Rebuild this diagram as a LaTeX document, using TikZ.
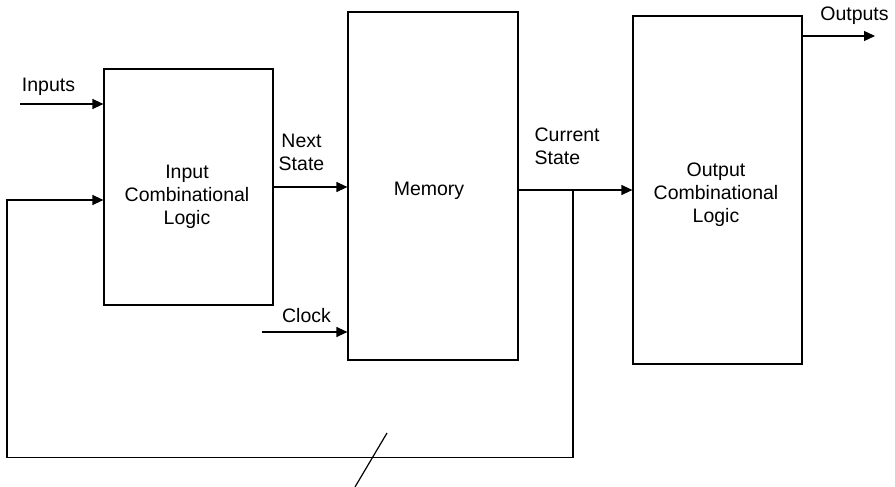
\documentclass[tikz,border=0pt]{standalone}
\usepackage{fontspec}
\setmainfont{Liberation Sans}
\usetikzlibrary{arrows.meta,positioning}

\begin{document}
\begin{tikzpicture}[x=1pt,y=-1pt,line width=1.2pt,
  block/.style={draw,minimum width=169pt,inner sep=0pt},
  sig/.style={-{Triangle[length=11pt,width=10pt]}},
  txt/.style={font=\fontsize{19.5}{23}\selectfont,inner sep=0pt}]
\useasboundingbox (0,0) rectangle (895,487);
% blocks
\node[block,minimum height=236pt] (incl) at (188.5,187) {};
\node[block,minimum width=170pt,minimum height=348pt] (mem) at (433,186) {};
\node[block,minimum height=348pt] (outcl) at (717.5,190) {};
\node[txt,align=center] (incltxt) at (187,197) {Input\\Combinational\\Logic};
\node[txt] (memtxt) at (429,191) {Memory};
\node[txt,align=center] (outcltxt) at (716,195) {Output\\Combinational\\Logic};
% signal labels
\node[txt] (inlbl) at (48.5,87) {Inputs};
\node[txt,align=center] (nslbl) at (301.5,152) {Next\\State};
\node[txt] (clklbl) at (306.5,316) {Clock};
\node[txt,align=left,anchor=west] (cslbl) at (534,146) {Current\\State};
\node[txt] (outlbl) at (854.5,15.5) {Outputs};
% signals
\coordinate (inp) at (20,104);
\coordinate (clk) at (262,332);
\coordinate (tap) at (573,190);
\coordinate (fb) at (7,200);
\draw[sig] (inp) -- (inp -| incl.west);
\draw[sig] (incl.east) -- (incl.east -| mem.west);
\draw[sig] (clk) -- (clk -| mem.west);
\draw[sig] (mem.east |- outcl.west) -- (outcl.west);
\draw[sig] (tap) -- ++(0,267.5) -| (fb) -- (fb -| incl.west);
\draw[sig] (outcl.east |- 0,36) -- (875,36);
% bus slash
\draw (355,487) -- (387,433);
\end{tikzpicture}
\end{document}
